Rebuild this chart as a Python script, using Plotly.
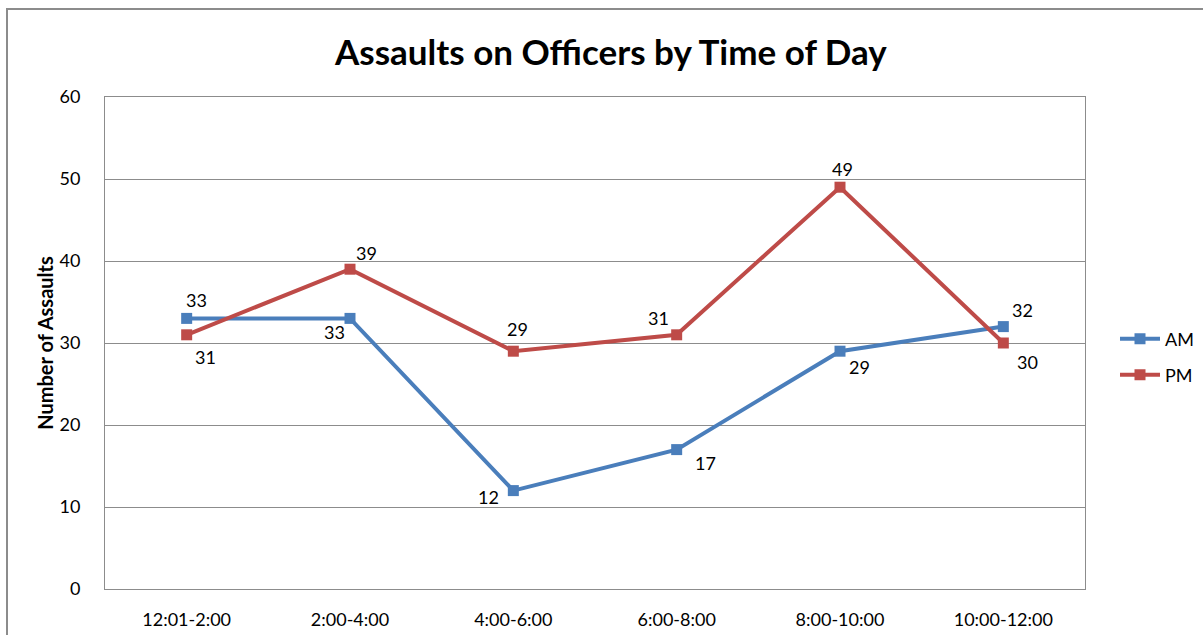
import plotly.graph_objects as go

# Assaults on officers, grouped into two-hour windows
time_slots = ["12:01-2:00", "2:00-4:00", "4:00-6:00", "6:00-8:00", "8:00-10:00", "10:00-12:00"]
am_counts = [33, 33, 12, 17, 29, 32]
pm_counts = [31, 39, 29, 31, 49, 30]

AM_COLOR = "#4A7EBB"
PM_COLOR = "#BE4B48"
FONT = "Lato, Calibri, Arial, sans-serif"

# label offsets (pixels) chosen so the numbers sit clear of the lines
am_offsets = [(10, 18), (-16, -14), (-25, -6), (29, -13), (19, -16), (19, 17)]
pm_offsets = [(19, -22), (16, 16), (4, 22), (-18, 17), (2, 18), (24, -19)]

W, H = 1203, 635
ML, MR, MT, MB = 105, 118, 97, 46
PW, PH = W - ML - MR, H - MT - MB


def px_to_paper_x(px):
    return (px - ML) / PW


def px_to_paper_y(py):
    return (H - MB - py) / PH


fig = go.Figure()
series = [("AM", am_counts, AM_COLOR, "legend", 339),
          ("PM", pm_counts, PM_COLOR, "legend2", 375)]
legend_layouts = {}
for name, vals, color, leg, ly in series:
    fig.add_trace(go.Scatter(
        x=time_slots, y=vals, name=name, mode="lines+markers",
        line=dict(color=color, width=4),
        marker=dict(symbol="square", size=11, color=color),
        legend=leg,
    ))
    legend_layouts[leg] = dict(
        x=px_to_paper_x(1115), y=px_to_paper_y(ly), xanchor="left", yanchor="middle",
        font=dict(family=FONT, size=18, color="#000000"),
        bgcolor="rgba(0,0,0,0)", itemwidth=40,
    )

annotations = []
for vals, offs in [(am_counts, am_offsets), (pm_counts, pm_offsets)]:
    for cat, v, (dx, dy) in zip(time_slots, vals, offs):
        annotations.append(dict(
            x=cat, y=v, text=str(v), showarrow=False,
            xshift=dx, yshift=dy, xanchor="center", yanchor="middle",
            font=dict(family=FONT, size=18, color="#000000"),
        ))

annotations.append(dict(
    x=px_to_paper_x(610), y=px_to_paper_y(51), xref="paper", yref="paper",
    text="<b>Assaults on Officers by Time of Day</b>", showarrow=False,
    xanchor="center", yanchor="middle",
    font=dict(family=FONT, size=35, color="#000000"),
))

fig.update_layout(
    width=W, height=H,
    margin=dict(l=ML, r=MR, t=MT, b=MB, autoexpand=False),
    paper_bgcolor="white", plot_bgcolor="white",
    annotations=annotations,
    showlegend=True,
    legend=legend_layouts["legend"],
    legend2=legend_layouts["legend2"],
    shapes=[
        # outer chart frame
        dict(type="rect", xref="paper", yref="paper",
             x0=px_to_paper_x(7), x1=px_to_paper_x(1215),
             y0=px_to_paper_y(650), y1=px_to_paper_y(9),
             line=dict(color="#8C8C8C", width=2), layer="below"),
    ],
)

fig.update_xaxes(
    type="category", range=[-0.5, 5.5], automargin=False,
    showgrid=False, showline=True, linecolor="#8C8C8C", linewidth=1, mirror=True,
    ticks="", ticklabelstandoff=14,
    tickfont=dict(family=FONT, size=18, color="#000000"),
)
fig.update_yaxes(
    range=[0, 60], dtick=10, tick0=0, automargin=False,
    showgrid=True, gridcolor="#8C8C8C", gridwidth=1,
    showline=True, linecolor="#8C8C8C", linewidth=1, mirror=True,
    zeroline=False, ticks="", ticklabelstandoff=20,
    tickfont=dict(family=FONT, size=18, color="#000000"),
    title=dict(text="<b>Number of Assaults</b>", standoff=0,
               font=dict(family=FONT, size=20, color="#000000")),
)

fig.write_html("out.html")
